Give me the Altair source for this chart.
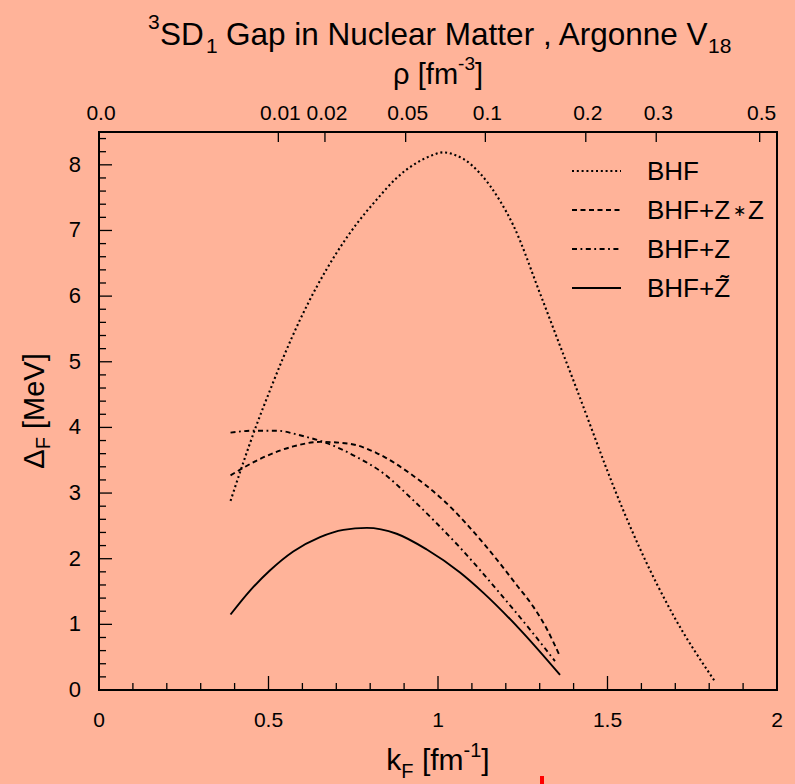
import math
import altair as alt
import pandas as pd

# ---------------- data ----------------
kf_bhf = [0.388, 0.426, 0.465, 0.504, 0.544, 0.593, 0.642, 0.701, 0.760, 0.819, 0.878, 0.937,
          0.980, 1.016, 1.050, 1.075, 1.124, 1.183, 1.222, 1.301, 1.358, 1.402, 1.453, 1.498,
          1.596, 1.694, 1.817]
gap_bhf = [2.88, 3.47, 4.04, 4.56, 5.07, 5.64, 6.14, 6.66, 7.10, 7.47, 7.80, 8.03,
           8.14, 8.19, 8.15, 8.09, 7.87, 7.45, 7.08, 6.04, 5.27, 4.68, 3.98, 3.36,
           2.15, 1.14, 0.13]

kf_zz = [0.388, 0.475, 0.573, 0.652, 0.740, 0.819, 0.917, 1.016, 1.143, 1.232, 1.281, 1.321, 1.360]
gap_zz = [3.27, 3.52, 3.71, 3.78, 3.75, 3.61, 3.30, 2.89, 2.18, 1.60, 1.27, 0.93, 0.51]

kf_z = [0.388, 0.455, 0.524, 0.593, 0.672, 0.760, 0.839, 0.917, 0.996, 1.063, 1.183, 1.281, 1.345]
gap_z = [3.92, 3.95, 3.95, 3.88, 3.76, 3.55, 3.30, 2.94, 2.54, 2.18, 1.47, 0.86, 0.44]

kf_zt = [0.388, 0.445, 0.504, 0.573, 0.652, 0.721, 0.790, 0.878, 0.967, 1.065, 1.134, 1.242, 1.360]
gap_zt = [1.15, 1.51, 1.82, 2.11, 2.33, 2.44, 2.47, 2.38, 2.14, 1.79, 1.48, 0.92, 0.23]

series_names = ["BHF", "BHF+Z\u2217Z", "BHF+Z", "BHF+Z\u0303"]

x_major = [0, 0.5, 1, 1.5, 2]
x_major_labels = ["0", "0.5", "1", "1.5", "2"]
x_minor = [0.1, 0.2, 0.3, 0.4, 0.6, 0.7, 0.8, 0.9, 1.1, 1.2, 1.3, 1.4, 1.6, 1.7, 1.8, 1.9]
y_major = [0, 1, 2, 3, 4, 5, 6, 7, 8]
y_major_labels = ["0", "1", "2", "3", "4", "5", "6", "7", "8"]
y_minor = [0.2, 0.4, 0.6, 0.8, 1.2, 1.4, 1.6, 1.8, 2.2, 2.4, 2.6, 2.8, 3.2, 3.4, 3.6, 3.8,
           4.2, 4.4, 4.6, 4.8, 5.2, 5.4, 5.6, 5.8, 6.2, 6.4, 6.6, 6.8, 7.2, 7.4, 7.6, 7.8,
           8.2, 8.4]
rho_ticks = [0.0, 0.01, 0.02, 0.05, 0.1, 0.2, 0.3, 0.5]
rho_labels = ["0.0", "0.01", "0.02", "0.05", "0.1", "0.2", "0.3", "0.5"]

# ---------------- layout ----------------
W, H = 678, 558
PL, PT = 99, 132
BG = "#ffb399"
FONT = "Liberation Sans"

xs = alt.Scale(domain=[0, 2], nice=False, zero=False)
ys = alt.Scale(domain=[0, 8.5], nice=False, zero=False)

# approximate Helvetica/Arial advance widths (em)
CW = {" ": .278, "[": .278, "]": .278, "f": .278, "m": .833, "k": .5, "F": .611, "-": .333,
      "1": .556, "3": .556, "\u03c1": .578, "\u0394": .668, "M": .833, "e": .556, "V": .667,
      "B": .667, "H": .722, "+": .584, "Z": .611}


def width(s, size):
    return sum(CW.get(c, .556) for c in s) * size


def txt(text, px, py, size, align="left", angle=0, baseline="alphabetic"):
    df = pd.DataFrame({"t": [text]})
    return alt.Chart(df).mark_text(
        align=align, baseline=baseline, fontSize=size, font=FONT, color="black", angle=angle
    ).encode(text="t:N", x=alt.value(px - PL), y=alt.value(py - PT))


layers = []


def line_layer(kf, gap, width_, dash=None):
    df = pd.DataFrame({"kF": kf, "gap": gap})
    kw = dict(color="black", strokeWidth=width_, interpolate="monotone", strokeCap="butt")
    if dash is not None:
        kw["strokeDash"] = dash
    return alt.Chart(df).mark_line(**kw).encode(
        x=alt.X("kF:Q", scale=xs, axis=None),
        y=alt.Y("gap:Q", scale=ys, axis=None),
        order=alt.Order("kF:Q"),
    )


dashes = [[2, 2.8], [5, 3.5], [5, 3.5, 1.8, 3.5], None]
lw = [2.1, 1.9, 1.9, 1.9]
for (kf, g), d, w in zip([(kf_bhf, gap_bhf), (kf_zz, gap_zz), (kf_z, gap_z), (kf_zt, gap_zt)],
                         dashes, lw):
    layers.append(line_layer(kf, g, w, d))


# ---------------- ticks (inward) ----------------
def xticks(vals, length):
    df = pd.DataFrame({"v": vals})
    return alt.Chart(df).mark_rule(color="black", strokeWidth=1.3).encode(
        x=alt.X("v:Q", scale=xs, axis=None), y=alt.value(H), y2=alt.value(H - length))


def yticks(vals, length):
    df = pd.DataFrame({"v": vals})
    return alt.Chart(df).mark_rule(color="black", strokeWidth=1.3).encode(
        y=alt.Y("v:Q", scale=ys, axis=None), x=alt.value(0), x2=alt.value(length))


layers.append(xticks(x_major, 14))
layers.append(xticks(x_minor, 7))
layers.append(yticks(y_major, 13))
layers.append(yticks(y_minor, 7))

rho_df = pd.DataFrame({"rho": rho_ticks, "lab": rho_labels})
rho_df["kF"] = (1.5 * math.pi ** 2 * rho_df["rho"]) ** (1.0 / 3.0)
layers.append(alt.Chart(rho_df[rho_df["rho"] > 0]).mark_rule(color="black", strokeWidth=1.3).encode(
    x=alt.X("kF:Q", scale=xs, axis=None), y=alt.value(0), y2=alt.value(10)))
layers.append(alt.Chart(rho_df).mark_text(fontSize=21, font=FONT, baseline="alphabetic", dx=2).encode(
    x=alt.X("kF:Q", scale=xs, axis=None), y=alt.value(120 - PT), text="lab:N"))

# tick labels
bx = pd.DataFrame({"v": x_major, "lab": x_major_labels})
layers.append(alt.Chart(bx).mark_text(fontSize=21, font=FONT, baseline="alphabetic").encode(
    x=alt.X("v:Q", scale=xs, axis=None), y=alt.value(727 - PT), text="lab:N"))
ly = pd.DataFrame({"v": y_major, "lab": y_major_labels})
layers.append(alt.Chart(ly).mark_text(fontSize=22, font=FONT, baseline="middle", align="right").encode(
    y=alt.Y("v:Q", scale=ys, axis=None), x=alt.value(81 - PL), text="lab:N"))

# ---------------- titles ----------------
TB = 45
TS, SS = 31.5, 21
layers.append(txt("3", 148, TB - 16, SS))
layers.append(txt("SD", 160, TB, TS))
layers.append(txt("1", 206, TB + 8, SS))
main = "Gap in Nuclear Matter , Argonne V"
layers.append(txt(main, 226, TB, TS))
layers.append(txt("18", 708, TB + 8, SS))


def compose(pieces, cx):
    """pieces: (text, size, baseline_y, gap_before_em)"""
    tot = sum(width(t, s) + g * s for t, s, _, g in pieces)
    x0 = cx - tot / 2
    for t, s, b, g in pieces:
        x0 += g * s
        layers.append(txt(t, x0, b, s))
        x0 += width(t, s)


CX = 438
compose([("\u03c1", 29, 84, 0), ("[fm", 29, 84, .278), ("-3", 19, 70, 0), ("]", 29, 84, 0)], CX)
compose([("k", 30, 770, 0), ("F", 20, 778, 0), ("[fm", 30, 770, .278), ("-1", 20, 757, 0),
         ("]", 30, 770, 0)], CX)

# y title (rotated, reads upward)
CY = 411
pieces = [("\u0394", 29, 44, 0), ("F", 20, 50, 0), ("[MeV]", 29, 44, .278)]
tot = sum(width(t, s) + g * s for t, s, _, g in pieces)
y0 = CY + tot / 2
for t, s, b, g in pieces:
    y0 -= g * s
    layers.append(txt(t, b, y0, s, angle=270))
    y0 -= width(t, s)

# ---------------- legend ----------------
rows = [171, 210, 249, 288]
for name, d, r in zip(series_names, dashes, rows):
    kw = dict(color="black", strokeWidth=1.8, strokeCap="butt")
    if d is not None:
        kw["strokeDash"] = d
    layers.append(alt.Chart(pd.DataFrame({"s": [name]})).mark_rule(**kw).encode(
        x=alt.value(572 - PL), x2=alt.value(621 - PL), y=alt.value(r - PT)))
    if "\u2217" in name:
        a, b = name.split("\u2217")
        wa = width(a, 26)
        layers.append(txt(a, 647, r + 1, 26, baseline="middle"))
        layers.append(txt("\u2217", 647 + wa + 9, r + 1, 16, align="center", baseline="middle"))
        layers.append(txt(b, 647 + wa + 18, r + 1, 26, baseline="middle"))
    else:
        layers.append(txt(name, 647, r + 1, 26, baseline="middle"))

# small red mark at the bottom edge
layers.append(alt.Chart(pd.DataFrame({"s": ["m"]})).mark_rule(color="#ff0000", strokeWidth=4).encode(
    x=alt.value(542 - PL), y=alt.value(776 - PT), y2=alt.value(784 - PT)))

chart = alt.layer(*layers).properties(
    width=W, height=H, background=BG,
    padding={"left": PL, "top": PT, "right": 795 - PL - W, "bottom": 784 - PT - H},
    autosize=alt.AutoSizeParams(type="none"),
).configure_view(stroke="black", strokeWidth=2)

chart.save("out.html", embed_options={"renderer": "svg", "actions": False})
